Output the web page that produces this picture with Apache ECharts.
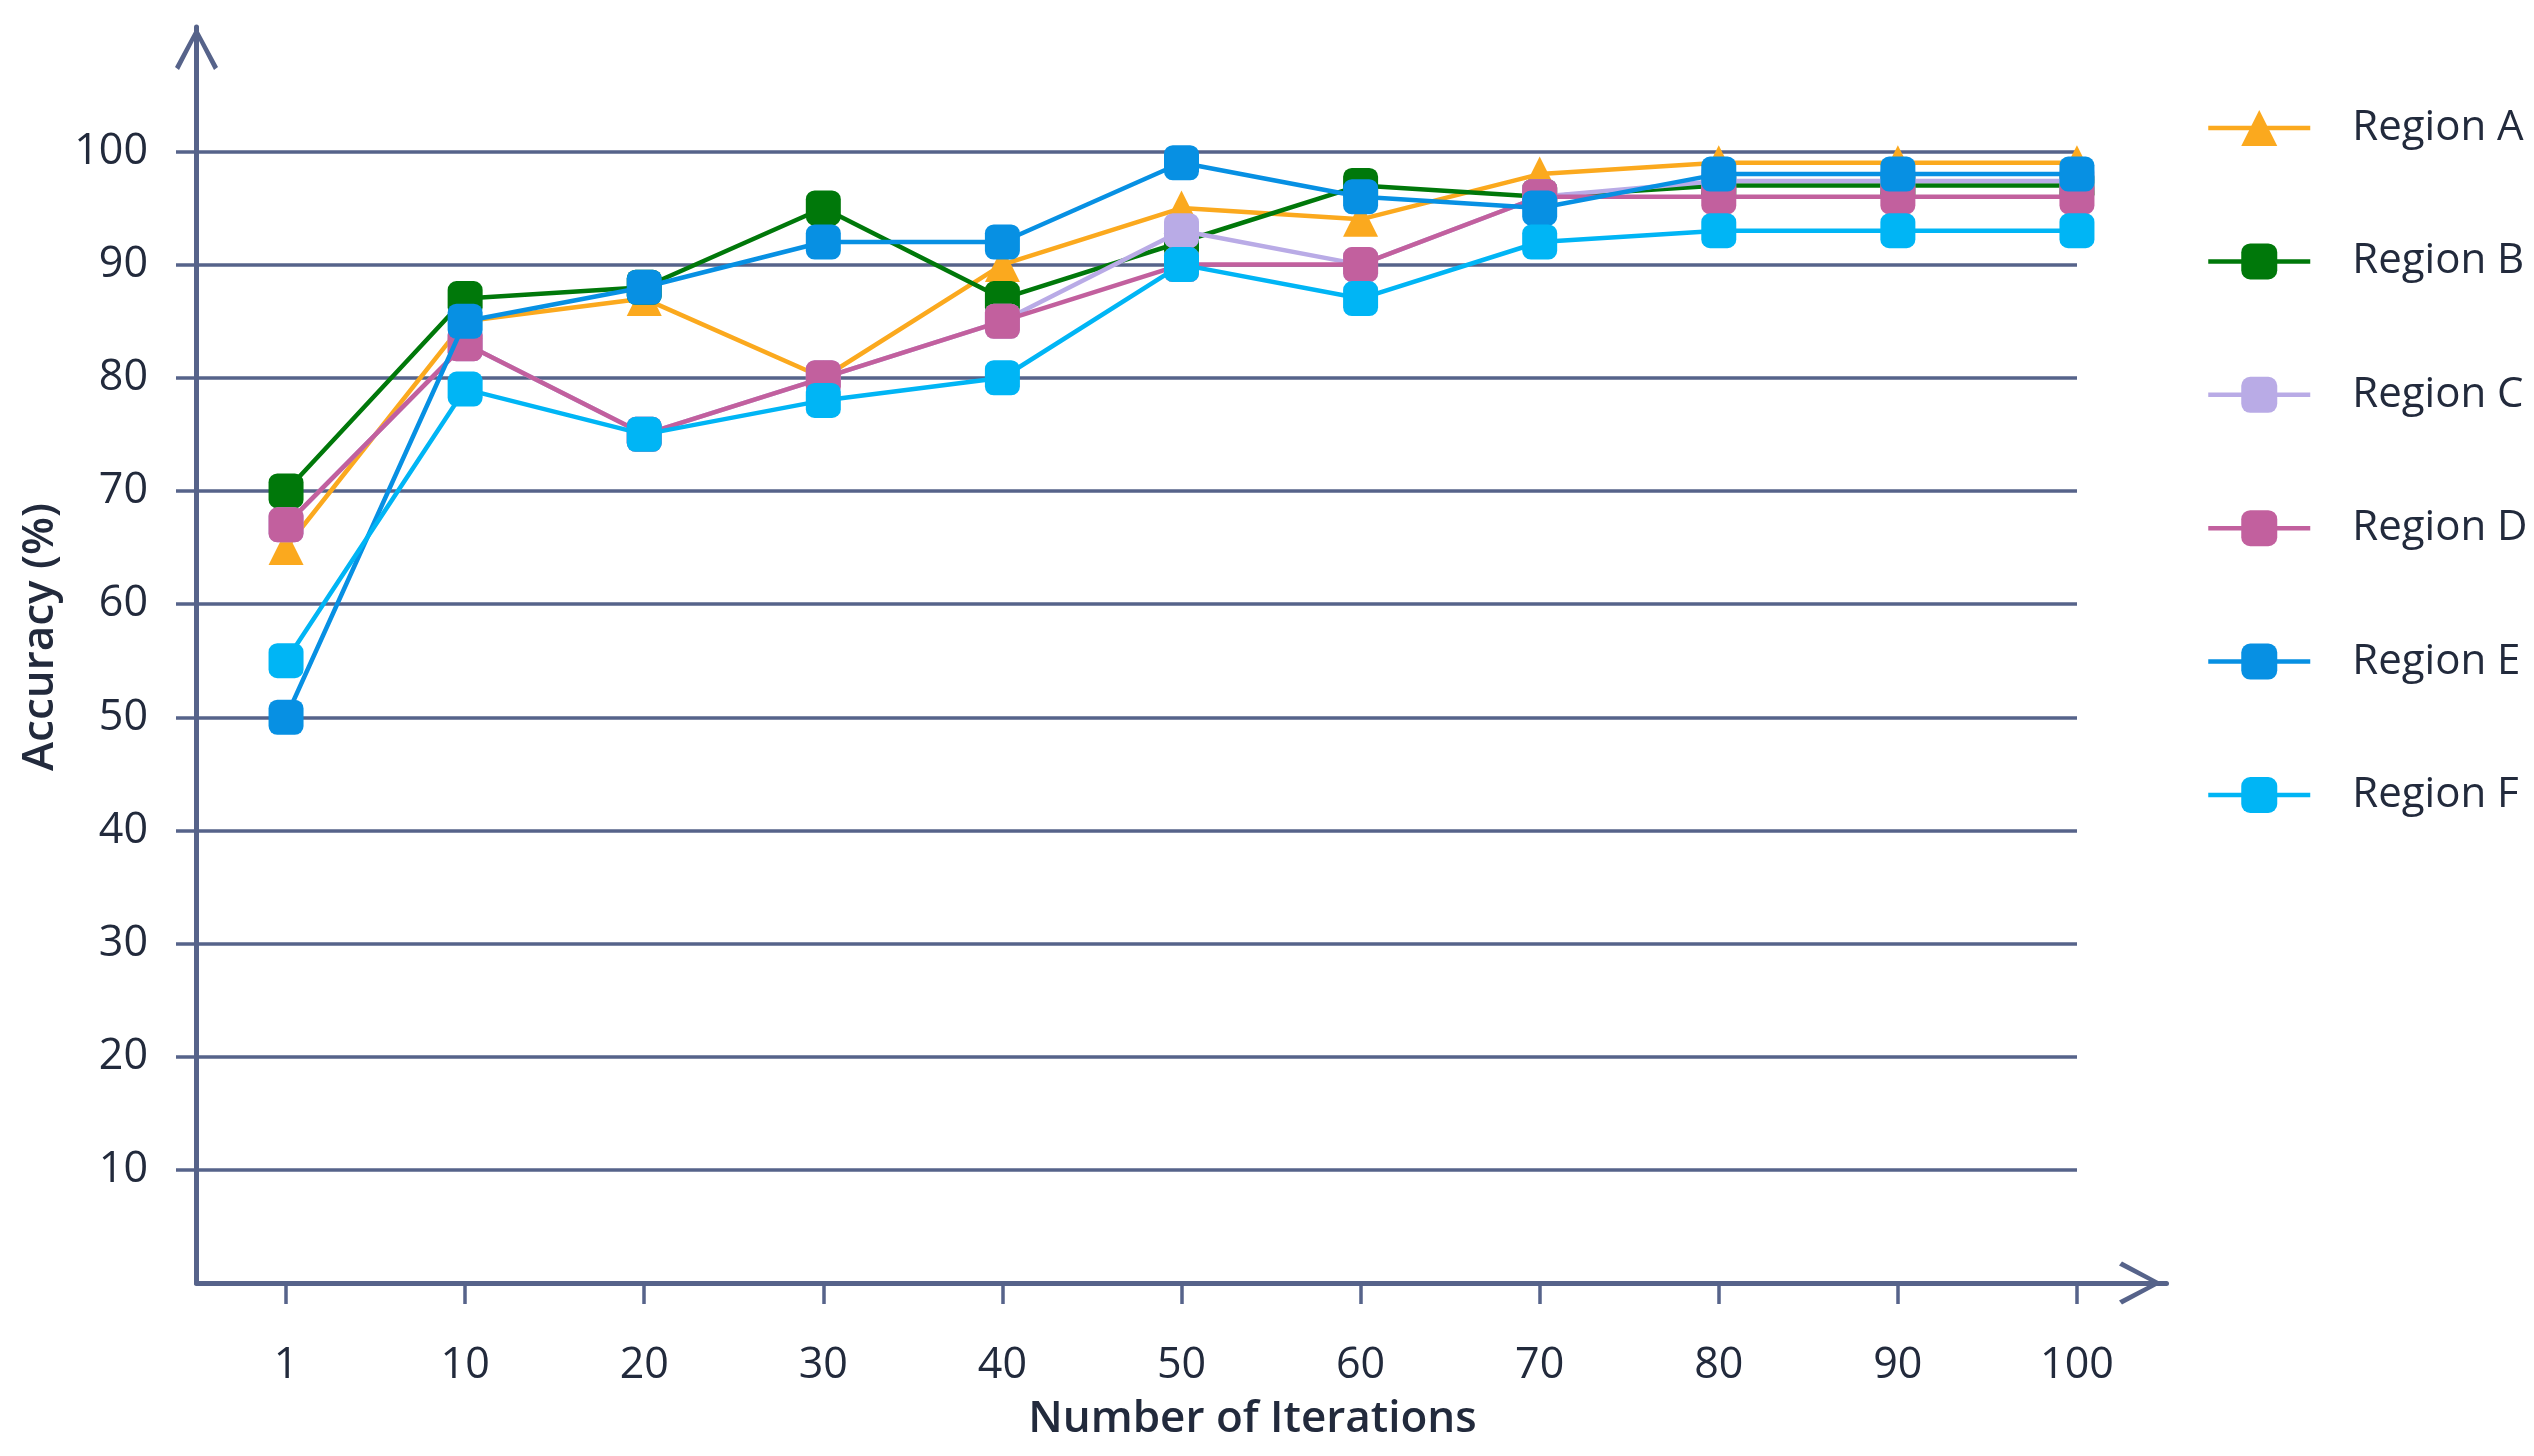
<!DOCTYPE html>
<html>
<head>
<meta charset="utf-8">
<script src="https://cdn.jsdelivr.net/npm/echarts@6/dist/echarts.min.js"></script>
<style>
html,body{margin:0;padding:0;background:#fff;}
#chart{width:2534px;height:1456px;}
</style>
</head>
<body>
<div id="chart"></div>
<script>
// ---- data ----
const categories = ['1', '10', '20', '30', '40', '50', '60', '70', '80', '90', '100'];
const seriesNames = ['Region A', 'Region B', 'Region C', 'Region D', 'Region E', 'Region F'];
const regionA = [65, 85, 87, 80, 90, 95, 94, 98, 99, 99, 99];
const regionB = [70, 87, 88, 95, 87, 92, 97, 96, 97, 97, 97];
const regionC = [67, 83, 75, 80, 85, 93, 90, 96, 97.4, 97.4, 97.4];
const regionD = [67, 83, 75, 80, 85, 90, 90, 96, 96, 96, 96];
const regionE = [50, 85, 88, 92, 92, 99, 96, 95, 98, 98, 98];
const regionF = [55, 79, 75, 78, 80, 90, 87, 92, 93, 93, 93];
const xAxisTitle = 'Number of Iterations';
const yAxisTitle = 'Accuracy (%)';

// ---- style ----
const colors = ['#FBA91E', '#00780A', '#B9ABE6', '#C2609E', '#0790E3', '#00B5F5'];
const symbols = ['triangle', 'roundRect', 'roundRect', 'roundRect', 'roundRect', 'roundRect'];
const axisColor = '#56638A';
const textColor = '#222A3C';
const font = '"Open Sans", "Noto Sans", sans-serif';
const chevron = 'path://M21.5,0 L43,40 L39,43 L21.5,9 L4,43 L0,40 Z';

const values = [regionA, regionB, regionC, regionD, regionE, regionF];

const chart = echarts.init(document.getElementById('chart'), null, {renderer: 'canvas'});

const series = values.map((v, i) => ({
  name: seriesNames[i],
  type: 'line',
  xAxisIndex: 0,
  yAxisIndex: 0,
  data: v,
  symbol: symbols[i],
  symbolSize: 35,
  showAllSymbol: true,
  lineStyle: {color: colors[i], width: 4.5},
  itemStyle: {color: colors[i]},
  emphasis: {disabled: true},
  z: 2 + i
}));

chart.setOption({
  animation: false,
  backgroundColor: '#ffffff',
  grid: [
    {left: 196.5, top: 27, width: 1970, height: 1256, containLabel: false},
    {left: 176, top: 151.7, width: 1901, height: 1131.3, containLabel: false}
  ],
  xAxis: [
    {
      gridIndex: 0,
      type: 'category',
      data: categories,
      boundaryGap: true,
      name: xAxisTitle,
      nameLocation: 'middle',
      nameGap: 114,
      nameMoveOverlap: false,
      nameTextStyle: {fontFamily: font, fontSize: 44, fontWeight: 600, color: textColor, padding: [0, 0, 0, 142]},
      axisLine: {show: true, lineStyle: {color: axisColor, width: 5}, symbol: ['none', chevron], symbolSize: [43, 43], symbolOffset: [0, -26]},
      axisTick: {show: true, alignWithLabel: true, length: 21, lineStyle: {color: axisColor, width: 3.5}},
      axisLabel: {show: true, margin: 61, fontFamily: font, fontSize: 43, color: textColor, interval: 0},
      splitLine: {show: false}
    },
    {
      gridIndex: 1,
      type: 'category',
      data: categories,
      show: false
    }
  ],
  yAxis: [
    {
      gridIndex: 0,
      type: 'value',
      min: 0,
      max: 111,
      name: yAxisTitle,
      nameLocation: 'middle',
      nameGap: 134,
      nameMoveOverlap: false,
      nameTextStyle: {fontFamily: font, fontSize: 44, fontWeight: 600, color: textColor, padding: [0, 0, 0, 36]},
      axisLine: {show: true, lineStyle: {color: axisColor, width: 5}, symbol: ['none', chevron], symbolSize: [43, 43], symbolOffset: [0, -21.5]},
      axisTick: {show: false},
      axisLabel: {show: false},
      splitLine: {show: false}
    },
    {
      gridIndex: 1,
      type: 'value',
      min: 0,
      max: 100,
      interval: 10,
      axisLine: {show: false},
      axisTick: {show: false},
      axisLabel: {show: true, margin: 28, fontFamily: font, fontSize: 43, color: textColor,
        formatter: v => (v === 0 ? '' : String(v))},
      splitLine: {show: true, showMinLine: false, showMaxLine: true, lineStyle: {color: axisColor, width: 3.5}}
    }
  ],
  legend: {
    orient: 'vertical',
    left: 2201,
    top: 102,
    itemWidth: 102,
    itemHeight: 45,
    itemGap: 91.4,
    data: seriesNames,
    lineStyle: {width: 4.5},
    textStyle: {fontFamily: font, fontSize: 42, color: textColor, padding: [0, 0, 0, 37]},
    selectedMode: false
  },
  series: series
});
</script>
</body>
</html>
